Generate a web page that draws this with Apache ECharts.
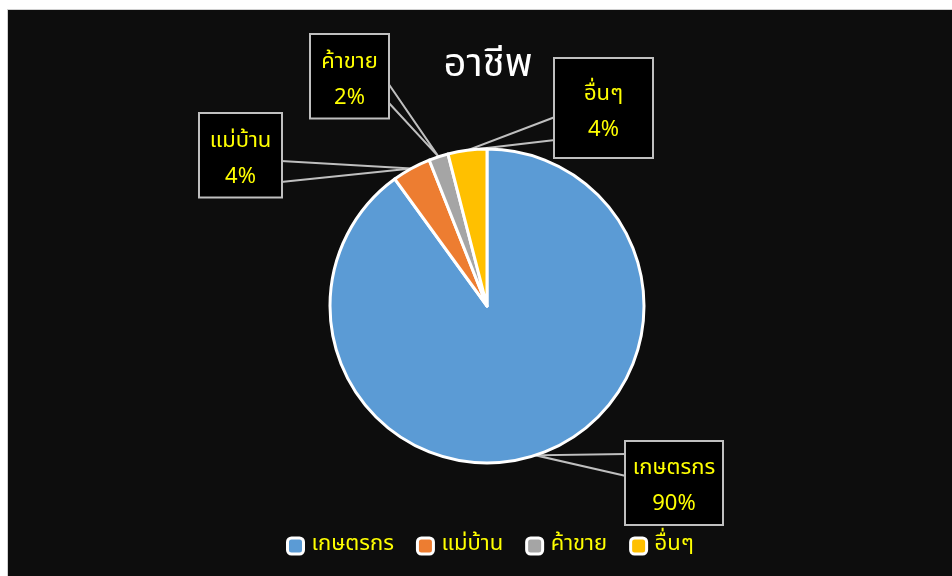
<!DOCTYPE html>
<html><head><meta charset="utf-8">
<script src="https://cdn.jsdelivr.net/npm/echarts@6/dist/echarts.min.js"></script>
<style>
html,body{margin:0;padding:0;background:#fff;width:952px;height:576px;overflow:hidden}
#frame{position:absolute;left:7px;top:9px;width:950px;height:570px;border:1px solid #d0d0d0;background:#0d0d0d;box-sizing:border-box}
#c{position:absolute;left:0;top:0;width:952px;height:576px}
</style></head>
<body><div id="frame"></div><div id="c"></div>
<script>
const categories = ['เกษตรกร', 'แม่บ้าน', 'ค้าขาย', 'อื่นๆ'];
const values = [90, 4, 2, 4];
const titleText = 'อาชีพ';

const colors = ['#5b9bd5', '#ed7d31', '#a5a5a5', '#ffc000'];
// callout box layout: [left, top, width, height], pointer base side x and two y's
const boxes = [[626, 442, 96, 80], [200, 114, 81, 81], [311, 35, 77, 81], [555, 59, 97, 98]];
const bases = [[626, 454, 476], [281, 161, 182], [388, 83, 102], [555, 117, 140]];
const font = '"Tahoma","Leelawadee UI","Noto Sans Thai","Noto Sans","DejaVu Sans",sans-serif';
const LH = 36;
const SHIFT = 6;

const chart = echarts.init(document.getElementById('c'), null, {renderer: 'canvas'});
chart.setOption({
  backgroundColor: 'transparent',
  title: {
    text: titleText, left: 483, top: 43, textAlign: 'center',
    textStyle: {color: '#ffffff', fontSize: 40, fontWeight: 'normal', fontFamily: font}
  },
  legend: {
    bottom: 19, left: 286, padding: 0, itemWidth: 16, itemHeight: 16, itemGap: 22,
    icon: 'roundRect',
    itemStyle: {borderColor: '#ffffff', borderWidth: 3},
    textStyle: {color: '#ffff00', fontSize: 22, fontFamily: font, padding: [0, 0, 0, 3]},
    data: categories
  },
  series: [{
    type: 'pie',
    center: [487, 306],
    radius: 157,
    startAngle: 90,
    clockwise: true,
    percentPrecision: 0,
    animation: false,
    itemStyle: {borderColor: '#ffffff', borderWidth: 3},
    label: {
      show: true,
      formatter: '{b}\n{d}%',
      color: '#ffff00',
      fontSize: 22,
      lineHeight: LH,
      fontFamily: font,
      backgroundColor: '#000000',
      borderColor: '#bfbfbf',
      borderWidth: 2,
      align: 'center'
    },
    labelLine: {show: true, length: 20, length2: 20, lineStyle: {color: '#bfbfbf', width: 2}},
    labelLayout: function (p) {
      const i = p.dataIndex;
      const b = boxes[i];
      const tip = p.labelLinePoints ? p.labelLinePoints[0] : [b[0], b[1]];
      const bs = bases[i];
      return {
        x: b[0] + b[2] / 2, y: b[1],
        align: 'center', verticalAlign: 'top',
        labelLinePoints: [[bs[0], bs[1]], tip, [bs[0], bs[2]]]
      };
    },
    data: categories.map((n, i) => {
      const b = boxes[i];
      const h = (b[3] - 2 * LH) / 2;
      const top = h + SHIFT;
      const bottom = Math.max(0, b[3] - 2 * LH - top);
      return {
        name: n, value: values[i],
        itemStyle: {color: colors[i]},
        label: {width: b[2] - 4, padding: [top, 2, bottom, 2]}
      };
    })
  }]
});
</script></body></html>
